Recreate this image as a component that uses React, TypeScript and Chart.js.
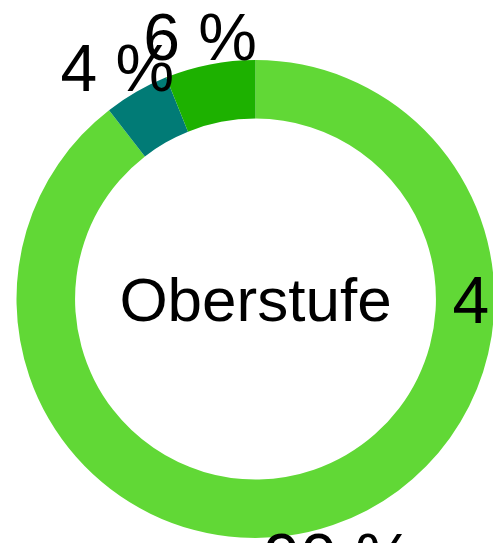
import React, { useEffect, useRef } from "react";
import { Chart, registerables } from "chart.js";

Chart.register(...registerables);

const categories = ["Ja", "Nein", "Keine Angabe"];
const values = [89.5, 4.4, 6.1];
const colors = ["#61D836", "#017B76", "#1DB100"];
const centerTitle = "Oberstufe";
const sideNote = "4 %";

export default function App() {
  const ref = useRef<HTMLCanvasElement>(null);

  useEffect(() => {
    if (!ref.current) return;
    const labelPlugin = {
      id: "sliceLabels",
      afterDraw(chart: any) {
        const ctx = chart.ctx as CanvasRenderingContext2D;
        const meta = chart.getDatasetMeta(0);
        const first = meta.data[0] as any;
        const cx = first.x;
        const cy = first.y;
        const outer = first.outerRadius;
        const total = values.reduce((a, b) => a + b, 0);
        const fs = 66;
        const r = outer + 30.5;
        ctx.save();
        ctx.fillStyle = "#000";
        ctx.textAlign = "center";
        ctx.textBaseline = "alphabetic";
        ctx.font = `${fs}px "Liberation Sans", Arial, Helvetica, sans-serif`;
        meta.data.forEach((arc: any, i: number) => {
          const mid = (arc.startAngle + arc.endAngle) / 2;
          const x = cx + Math.cos(mid) * r - 4;
          const y = cy + Math.sin(mid) * r + fs * 0.358 + 2;
          ctx.fillText(Math.round((values[i] / total) * 100) + " %", x, y);
        });
        ctx.textAlign = "left";
        ctx.fillText(sideNote, cx + outer - 42, cy + fs * 0.358);
        ctx.textAlign = "center";
        const cfs = 62;
        ctx.font = `${cfs}px "Liberation Sans", Arial, Helvetica, sans-serif`;
        ctx.fillText(centerTitle, cx, cy + cfs * 0.358);
        ctx.restore();
      },
    };

    const chart = new Chart(ref.current, {
      type: "doughnut",
      data: {
        labels: categories,
        datasets: [
          {
            data: values,
            backgroundColor: colors,
            borderWidth: 0,
          },
        ],
      },
      options: {
        animation: false,
        responsive: false,
        cutout: "75.5%",
        layout: { padding: { left: 8, right: 8, top: 52, bottom: 54 } },
        plugins: {
          legend: { display: false },
          tooltip: { enabled: false },
        },
      },
      plugins: [labelPlugin],
    });
    return () => chart.destroy();
  }, []);

  return (
    <div
      style={{
        position: "fixed",
        left: 0,
        top: 0,
        width: 493,
        height: 543,
        overflow: "hidden",
        background: "#fff",
      }}
    >
      <canvas
        ref={ref}
        width={495}
        height={584}
        style={{ position: "absolute", left: 8, top: 8, display: "block", width: 495, height: 584 }}
      />
    </div>
  );
}
